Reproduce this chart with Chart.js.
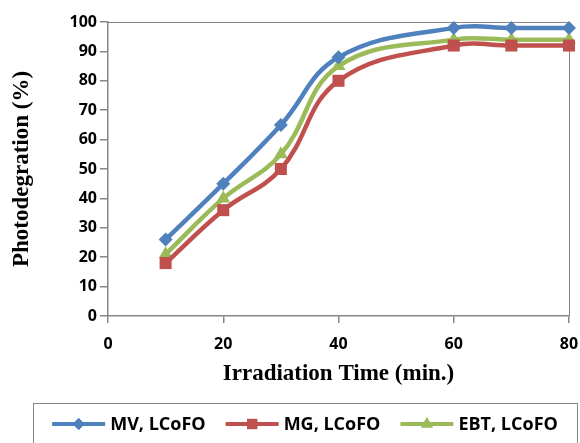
<!DOCTYPE html>
<html>
<head>
<meta charset="utf-8">
<script src="https://cdn.jsdelivr.net/npm/chart.js@4.4.0/dist/chart.umd.min.js"></script>
<style>
  html, body { margin: 0; padding: 0; background: #fff; }
  #wrap { width: 580px; height: 443px; }
</style>
</head>
<body>
<div id="wrap"><canvas id="chart" width="580" height="443"></canvas></div>
<script>
// 데이터
const timeMin = [10, 20, 30, 40, 60, 70, 80];
const mvValues = [26, 45, 65, 88, 98, 98, 98];
const mgValues = [18, 36, 50, 80, 92, 92, 92];
const ebtValues = [21, 40, 55, 85, 94, 94, 94];
const seriesLabels = ['MV, LCoFO', 'MG, LCoFO', 'EBT, LCoFO'];
const xTicks = [0, 20, 40, 60, 80];
const yTicks = [0, 10, 20, 30, 40, 50, 60, 70, 80, 90, 100];

const COLORS = ['#4f81bd', '#c0504d', '#9bbb59'];
const STYLES = [
  { pointStyle: 'rectRot', radius: 7 },
  { pointStyle: 'rect', radius: 8.5 },
  { pointStyle: 'triangle', radius: 8 },
];
const AXIS_COLOR = '#868686';
const TICK_FONT = { family: '"Open Sans", sans-serif', size: 16, weight: 'bold' };
const TITLE_FONT = { family: '"Liberation Serif", "Times New Roman", serif', size: 23, weight: 'bold' };

const toPoints = (vals) => timeMin.map((x, i) => ({ x: x, y: vals[i] }));

function makeDataset(i, vals) {
  return {
    label: seriesLabels[i],
    data: toPoints(vals),
    borderColor: COLORS[i],
    backgroundColor: COLORS[i],
    borderWidth: 4.5,
    tension: 0.4,
    pointStyle: STYLES[i].pointStyle,
    pointRadius: STYLES[i].radius,
    pointBorderWidth: 0,
    pointBackgroundColor: COLORS[i],
    clip: false,
  };
}

// 플롯 테두리 + 하단 범례
const framePlugin = {
  id: 'frame',
  beforeDatasetsDraw(chart) {
    const { ctx, chartArea: a } = chart;
    ctx.save();
    ctx.strokeStyle = AXIS_COLOR;
    ctx.lineWidth = 1;
    ctx.beginPath();
    ctx.moveTo(a.left, a.top + 0.5);
    ctx.lineTo(a.right + 0.5, a.top + 0.5);
    ctx.lineTo(a.right + 0.5, a.bottom);
    ctx.stroke();
    ctx.restore();
  },
  afterDraw(chart) {
    const { ctx } = chart;
    const boxX = 33, boxY = 403, boxW = 544;
    const cy = 424;
    ctx.save();
    ctx.strokeStyle = AXIS_COLOR;
    ctx.lineWidth = 1;
    ctx.strokeRect(boxX + 0.5, boxY + 0.5, boxW, 60);

    ctx.font = 'bold 18px "Open Sans", sans-serif';
    const sample = 53, gap = 5, itemGap = 20;
    const widths = seriesLabels.map((t) => ctx.measureText(t).width);
    const total = widths.reduce((s, w) => s + sample + gap + w, 0) + itemGap * (seriesLabels.length - 1);
    let x = boxX + (boxW - total) / 2;

    seriesLabels.forEach((label, i) => {
      ctx.strokeStyle = COLORS[i];
      ctx.lineWidth = 4;
      ctx.beginPath();
      ctx.moveTo(x, cy);
      ctx.lineTo(x + sample, cy);
      ctx.stroke();
      ctx.fillStyle = COLORS[i];
      Chart.helpers.drawPoint(ctx, { pointStyle: STYLES[i].pointStyle, radius: STYLES[i].radius * 0.85, rotation: 0, borderWidth: 0 }, x + sample / 2, cy);
      ctx.fill();
      ctx.fillStyle = '#000';
      ctx.textBaseline = 'middle';
      ctx.textAlign = 'left';
      ctx.fillText(label, x + sample + gap, cy + 1);
      x += sample + gap + widths[i] + itemGap;
    });
    ctx.restore();
  },
};

new Chart(document.getElementById('chart').getContext('2d'), {
  type: 'line',
  data: {
    datasets: [
      makeDataset(0, mvValues),
      makeDataset(1, mgValues),
      makeDataset(2, ebtValues),
    ],
  },
  options: {
    responsive: false,
    animation: false,
    layout: { padding: { left: 0, right: 11, top: 22, bottom: 40 } },
    plugins: {
      legend: { display: false },
      tooltip: { enabled: false },
    },
    scales: {
      x: {
        type: 'linear',
        min: 0,
        max: 80,
        afterBuildTicks: (scale) => { scale.ticks = xTicks.map((v) => ({ value: v })); },
        afterFit: (scale) => { scale.height = 87; scale.paddingRight = 0; scale.paddingLeft = 0; },
        grid: { drawOnChartArea: false, tickLength: 7, color: AXIS_COLOR, lineWidth: 1.5 },
        border: { color: AXIS_COLOR, width: 1.5 },
        ticks: { color: '#000', font: TICK_FONT, padding: 12, maxRotation: 0 },
        title: { display: true, text: 'Irradiation Time (min.)', color: '#000', font: TITLE_FONT, padding: { top: 0, bottom: 15 } },
      },
      y: {
        min: 0,
        max: 100,
        afterBuildTicks: (scale) => { scale.ticks = yTicks.map((v) => ({ value: v })); },
        afterFit: (scale) => { scale.width = 108; },
        grid: { drawOnChartArea: false, tickLength: 8, color: AXIS_COLOR, lineWidth: 1.5 },
        border: { color: AXIS_COLOR, width: 1.5 },
        ticks: { color: '#000', font: TICK_FONT, padding: 3 },
        title: { display: true, text: 'Photodegration (%)', color: '#000', font: TITLE_FONT, padding: { top: 8, bottom: 0 } },
      },
    },
  },
  plugins: [framePlugin],
});
</script>
</body>
</html>
